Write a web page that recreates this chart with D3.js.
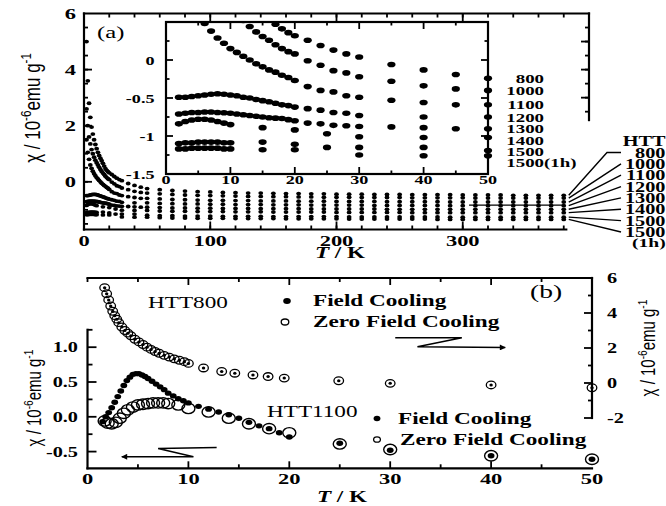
<!DOCTYPE html>
<html>
<head>
<meta charset="utf-8">
<script src="https://cdnjs.cloudflare.com/ajax/libs/d3/7.8.5/d3.min.js"></script>
<style>
  body { margin: 0; background: #fff; }
</style>
</head>
<body>
<svg id="fig" width="666" height="506"></svg>
<script>

// ---- panel (a) data : chi / 10^-6 emu g^-1 vs T / K ----

var tDense  = [2,3,4,5,6,7,8,9,10,11,12,13,14,15,16,17,18,19,20,22,24,26,28,30,35,40,45,50];
var t1200   = [2,3,4,5,6,7,8,9,10,11,12,13,14,15,16,17,18,19,20,22,24,26,28,30,40,50];
var tSparse = [2,3,4,5,6,7,8,9,10,15,20,25,30,40,50];
var t1500h  = [2,3,4,5,6,7,8,9,10,15,20,30,40,50];
var tHigh   = [60,70,80,90,100,110,120,130,140,150,160,170,180,190,200,210,220,230,240,250,260,270,280,290,300,310,320,330,340,350,360,370,380];

var chi800  = [5.0,3.6,2.8,2.3,1.95,1.7,1.5,1.33,1.18,1.05,0.94,0.84,0.75,0.66,0.56,0.47,0.41,0.36,0.32,0.26,0.19,0.13,0.08,0.04,-0.06,-0.13,-0.19,-0.24];
var chi1000 = [2.6,2.0,1.6,1.35,1.15,1.0,0.88,0.77,0.68,0.6,0.52,0.44,0.37,0.31,0.26,0.2,0.15,0.11,0.08,-0.01,-0.07,-0.14,-0.17,-0.22,-0.28,-0.34,-0.38,-0.40];
var chi1100 = [1.5,1.05,0.8,0.6,0.48,0.38,0.29,0.22,0.15,0.1,0.05,0.0,-0.05,-0.09,-0.13,-0.16,-0.2,-0.23,-0.27,-0.35,-0.4,-0.42,-0.47,-0.49,-0.53,-0.56,-0.59,-0.59];
var chi1200 = [-0.49,-0.49,-0.48,-0.47,-0.46,-0.45,-0.445,-0.45,-0.46,-0.47,-0.49,-0.5,-0.52,-0.535,-0.55,-0.57,-0.59,-0.6,-0.62,-0.64,-0.66,-0.69,-0.7,-0.73,-0.75,-0.75];
var chi1300 = [-0.71,-0.7,-0.69,-0.69,-0.685,-0.685,-0.69,-0.695,-0.7,-0.71,-0.72,-0.73,-0.74,-0.75,-0.76,-0.765,-0.77,-0.785,-0.8,-0.83,-0.84,-0.86,-0.865,-0.875,-0.88,-0.89,-0.905,-0.905];
var chi1400 = [-0.84,-0.81,-0.79,-0.78,-0.78,-0.79,-0.81,-0.83,-0.85,-0.89,-0.92,-0.97,-1.01,-1.02,-1.02];
var chi1500 = [-1.1,-1.09,-1.09,-1.08,-1.08,-1.08,-1.08,-1.09,-1.09,-1.08,-1.11,-1.15,-1.15,-1.15,-1.19];
var chi1500h = [-1.17,-1.17,-1.16,-1.16,-1.16,-1.16,-1.16,-1.17,-1.17,-1.18,-1.18,-1.25,-1.26,-1.26];

// high temperature part (main panel only)
var hi800  = [-0.28,-0.31,-0.33,-0.35,-0.36,-0.38,-0.39,-0.40,-0.40,-0.41,-0.42,-0.42,-0.43,-0.43,-0.44,-0.44,-0.44,-0.45,-0.45,-0.45,-0.46,-0.46,-0.46,-0.46,-0.47,-0.47,-0.47,-0.47,-0.48,-0.48,-0.48,-0.48,-0.48];
var hi1000 = [-0.43,-0.45,-0.47,-0.48,-0.49,-0.50,-0.51,-0.52,-0.52,-0.53,-0.53,-0.54,-0.54,-0.55,-0.55,-0.55,-0.56,-0.56,-0.56,-0.56,-0.57,-0.57,-0.57,-0.57,-0.57,-0.58,-0.58,-0.58,-0.58,-0.58,-0.58,-0.58,-0.58];
var hi1100 = [-0.61,-0.63,-0.64,-0.65,-0.66,-0.66,-0.67,-0.67,-0.68,-0.68,-0.68,-0.69,-0.69,-0.69,-0.70,-0.70,-0.70,-0.70,-0.71,-0.71,-0.71,-0.71,-0.71,-0.72,-0.72,-0.72,-0.72,-0.72,-0.72,-0.72,-0.72,-0.72,-0.72];
var hi1200 = [-0.77,-0.78,-0.79,-0.79,-0.80,-0.80,-0.81,-0.81,-0.81,-0.82,-0.82,-0.82,-0.83,-0.83,-0.83,-0.83,-0.83,-0.84,-0.84,-0.84,-0.84,-0.84,-0.84,-0.85,-0.85,-0.85,-0.85,-0.85,-0.85,-0.85,-0.85,-0.85,-0.85];
var hi1300 = [-0.92,-0.93,-0.93,-0.94,-0.94,-0.95,-0.95,-0.95,-0.96,-0.96,-0.96,-0.96,-0.97,-0.97,-0.97,-0.97,-0.97,-0.97,-0.98,-0.98,-0.98,-0.98,-0.98,-0.98,-0.98,-0.98,-0.98,-0.98,-0.98,-0.98,-0.98,-0.98,-0.98];
var hi1400 = [-1.04,-1.05,-1.05,-1.06,-1.06,-1.06,-1.07,-1.07,-1.07,-1.08,-1.08,-1.08,-1.08,-1.08,-1.09,-1.09,-1.09,-1.09,-1.09,-1.09,-1.10,-1.10,-1.10,-1.10,-1.10,-1.10,-1.10,-1.10,-1.10,-1.10,-1.10,-1.10,-1.10];
var hi1500 = [-1.21,-1.21,-1.22,-1.22,-1.22,-1.23,-1.23,-1.23,-1.23,-1.24,-1.24,-1.24,-1.24,-1.24,-1.24,-1.25,-1.25,-1.25,-1.25,-1.25,-1.25,-1.25,-1.25,-1.26,-1.26,-1.26,-1.26,-1.26,-1.26,-1.26,-1.26,-1.26,-1.26];
var hi1500h = [-1.28,-1.29,-1.29,-1.30,-1.30,-1.30,-1.31,-1.31,-1.31,-1.31,-1.32,-1.32,-1.32,-1.32,-1.32,-1.33,-1.33,-1.33,-1.33,-1.33,-1.33,-1.33,-1.34,-1.34,-1.34,-1.34,-1.34,-1.34,-1.34,-1.34,-1.34,-1.34,-1.34];

var htt = ['800','1000','1100','1200','1300','1400','1500','1500'];

// a stray horizontal rule in the main panel
var ruleT = [305, 380];
var ruleChi = [-0.83, -0.83];

// ---- panel (b) data ----

var t800b   = [1.7,1.9,2.1,2.3,2.5,2.7,2.9,3.1,3.4,3.7,4.0,4.3,4.7,5.1,5.5,5.9,6.3,6.7,7.1,7.6,8.1,8.6,9.1,9.6,10.0,11.5,13.3,14.6,16.4,17.9,19.5,24.9,30.0,40.0,50.0];
var chi800b = [5.45,5.1,4.75,4.4,4.1,3.85,3.65,3.45,3.2,3.0,2.85,2.7,2.5,2.35,2.2,2.05,1.92,1.8,1.7,1.58,1.48,1.38,1.3,1.22,1.12,0.86,0.66,0.56,0.46,0.37,0.28,0.13,-0.02,-0.11,-0.27];

var t1100fc   = [1.5,1.8,2.1,2.4,2.7,3.0,3.3,3.6,3.9,4.2,4.5,4.8,5.1,5.4,5.7,6.0,6.4,6.8,7.2,7.6,8.0,8.5,9.0,9.5,10.0,11.0,12.0,13.0,14.0,15.0,16.0,17.0,18.0,19.0,20.0,25.0,30.0,40.0,50.0];
var chi1100fc = [-0.07,0.0,0.06,0.13,0.21,0.29,0.37,0.45,0.52,0.57,0.61,0.62,0.62,0.6,0.58,0.55,0.51,0.47,0.43,0.39,0.34,0.3,0.26,0.23,0.2,0.15,0.11,0.07,0.03,-0.02,-0.08,-0.13,-0.17,-0.23,-0.29,-0.38,-0.48,-0.56,-0.61];

var t1100zfc   = [1.7,2.0,2.4,2.8,3.2,3.6,4.0,4.5,5.0,5.5,6.0,6.5,7.0,7.5,8.0,9.0,10.0,12.0,14.0,16.0,18.0,20.0,25.0,30.0,40.0,50.0];
var chi1100zfc = [-0.06,-0.09,-0.1,-0.08,-0.02,0.05,0.1,0.14,0.17,0.18,0.19,0.2,0.2,0.2,0.19,0.17,0.12,0.07,-0.02,-0.1,-0.17,-0.23,-0.39,-0.47,-0.56,-0.61];

// arrows (data units of the axis they point to)
var arrowRightT = [30.5, 37.1, 32.7, 41.4];
var arrowRightChi = [2.59, 2.59, 2.07, 2.03];
var arrowLeftT = [12.8, 7.0, 10.5, 3.4];
var arrowLeftChi = [-0.44, -0.455, -0.575, -0.575];

// ------------------------------------------------------------------

var SX = 1.45;   // the scan is stretched sideways
var LW = 2.2;    // frame line width
var serif = 'Liberation Serif, Times New Roman, serif';
var sans = 'Liberation Sans, Arial, sans-serif';

var svg = d3.select('#fig');

function txt ( g, x, y, s, size, anchor, opts ) {
    opts = opts || {};
    return g.append('text')
        .attr('transform', 'translate(' + x + ',' + y + ') scale(' + SX + ',1)')
        .attr('text-anchor', anchor || 'start')
        .style('font-family', opts.family || serif)
        .style('font-size', size + 'px')
        .style('font-weight', opts.weight || 'bold')
        .attr('fill', '#000')
        .text(s);
}

function seg ( g, x1, y1, x2, y2 ) {
    g.append('path')
        .attr('d', 'M' + x1 + ',' + y1 + 'L' + x2 + ',' + y2)
        .attr('fill', 'none')
        .attr('stroke', '#000')
        .attr('stroke-width', LW)
        .attr('stroke-linecap', 'square');
}

// tick marks along a horizontal edge at y, going dy
function xTicks ( g, xs, vals, y, dy ) {
    g.selectAll(null)
        .data(vals)
        .enter().append('path')
        .attr('d', function ( d ) { return 'M' + xs(d) + ',' + y + 'V' + (y + dy); })
        .attr('fill', 'none')
        .attr('stroke', '#000')
        .attr('stroke-width', 1.8);
}

// tick marks along a vertical edge at x, going dx
function yTicks ( g, ys, vals, x, dx ) {
    g.selectAll(null)
        .data(vals)
        .enter().append('path')
        .attr('d', function ( d ) { return 'M' + x + ',' + ys(d) + 'H' + (x + dx); })
        .attr('fill', 'none')
        .attr('stroke', '#000')
        .attr('stroke-width', 1.8);
}

function ytitle ( x, y, size ) {
    var t = svg.append('text')
        .attr('transform', 'translate(' + x + ',' + y + ') rotate(-90) scale(1,1.3)')
        .attr('text-anchor', 'middle')
        .style('font-family', sans)
        .style('font-size', size + 'px')
        .attr('fill', '#000');
    t.append('tspan').text('\u03C7 / 10');
    t.append('tspan').attr('dy', -0.42 * size).style('font-size', (0.68 * size) + 'px').text('-6');
    t.append('tspan').attr('dy', 0.42 * size).text('emu g');
    t.append('tspan').attr('dy', -0.42 * size).style('font-size', (0.68 * size) + 'px').text('-1');
}

function dots ( g, xs, ys, tArr, cArr, rx, ry, filled, sw ) {
    g.selectAll(null)
        .data(d3.zip(tArr, cArr))
        .enter().append('ellipse')
        .attr('cx', function ( d ) { return xs(d[0]); })
        .attr('cy', function ( d ) { return ys(d[1]); })
        .attr('rx', rx)
        .attr('ry', ry)
        .attr('fill', filled ? '#000' : 'none')
        .attr('stroke', filled ? 'none' : '#000')
        .attr('stroke-width', sw || 1.3);
}

svg.append('defs').append('marker')
    .attr('id', 'head')
    .attr('viewBox', '0 0 10 10')
    .attr('refX', 9).attr('refY', 5)
    .attr('markerWidth', 9).attr('markerHeight', 6)
    .attr('markerUnits', 'userSpaceOnUse')
    .attr('orient', 'auto')
    .append('path')
    .attr('d', 'M0,0 L10,5 L0,10 z')
    .attr('fill', '#000');

// ================= panel (a) =================

var xMain = d3.scaleLinear().domain([0, 400]).range([84, 589]);
var yMain = d3.scaleLinear().domain([-1.7, 6]).range([229.5, 13.5]);

var ga = svg.append('g');

// frame: full left and top, short right edge, bottom axis stops where data stop
seg(ga, xMain(0), yMain(-1.7), xMain(0), yMain(6));
seg(ga, xMain(0), yMain(6), xMain(400), yMain(6));
seg(ga, xMain(400), yMain(6), xMain(400), yMain(2.2));
seg(ga, xMain(0), yMain(-1.7), xMain(382), yMain(-1.7));

xTicks(ga, xMain, d3.range(20, 381, 20), yMain(-1.7), -4);
xTicks(ga, xMain, [100, 200, 300], yMain(-1.7), -8);
xTicks(ga, xMain, d3.range(20, 400, 20), yMain(6), 4);
xTicks(ga, xMain, [100, 200, 300], yMain(6), 8);
yTicks(ga, yMain, d3.range(-1.5, 6, 0.5), xMain(0), 4);
yTicks(ga, yMain, [0, 2, 4], xMain(0), 8);
yTicks(ga, yMain, d3.range(2.5, 6, 0.5), xMain(400), -4);
yTicks(ga, yMain, [3, 4, 5], xMain(400), -8);

[0, 2, 4, 6].forEach(function ( v ) {
    txt(ga, 76, yMain(v) + 5.5, String(v), 15.5, 'end');
});
[0, 100, 200, 300].forEach(function ( v ) {
    txt(ga, xMain(v), 246, String(v), 15.5, 'middle');
});

var tk = txt(ga, 340, 258, '', 16, 'middle');
tk.append('tspan').style('font-style', 'italic').text('T');
tk.append('tspan').text(' / K');

ytitle(40, 108, 17);
txt(ga, 97, 38, '(a)', 17, 'start', { weight: 'normal' });

var seriesA = [
    { t: tDense,  c: chi800,   hi: hi800 },
    { t: tDense,  c: chi1000,  hi: hi1000 },
    { t: tDense,  c: chi1100,  hi: hi1100 },
    { t: t1200,   c: chi1200,  hi: hi1200 },
    { t: tDense,  c: chi1300,  hi: hi1300 },
    { t: tSparse, c: chi1400,  hi: hi1400 },
    { t: tSparse, c: chi1500,  hi: hi1500 },
    { t: t1500h,  c: chi1500h, hi: hi1500h }
];

seriesA.forEach(function ( s ) {
    dots(ga, xMain, yMain, s.t, s.c, 2.4, 1.9, true);
    dots(ga, xMain, yMain, tHigh, s.hi, 2.4, 1.9, true);
});

ga.append('path')
    .attr('d', d3.line()(d3.zip(ruleT, ruleChi).map(function ( d ) { return [ xMain(d[0]), yMain(d[1]) ]; })))
    .attr('stroke', '#000').attr('stroke-width', 1.4).attr('fill', 'none');

// label fan on the right
txt(ga, 665.5, 146, 'HTT', 14, 'end');
seriesA.forEach(function ( s, i ) {
    var ly = 152.5 + i * 11.35;
    var y0 = yMain(s.hi[s.hi.length - 1]);
    var x0 = xMain(tHigh[tHigh.length - 1]) + 5;
    var pts = i === 0 ? [[x0, y0], [607, ly], [621, ly]] : [[x0, y0], [621, ly]];
    ga.append('path')
        .attr('d', d3.line()(pts))
        .attr('stroke', '#000').attr('stroke-width', 1.4).attr('fill', 'none');
    txt(ga, 665.5, ly + 5, htt[i], 14, 'end');
});
txt(ga, 632, 152.5 + 8 * 11.35 + 4, '(1h)', 13.5, 'start');

// ---------------- inset ----------------

var xIn = d3.scaleLinear().domain([0, 50]).range([166, 488]);
var yIn = d3.scaleLinear().domain([-1.5, 0.5]).range([174, 22]);

var gi = svg.append('g');

gi.append('rect')
    .attr('x', xIn(0)).attr('y', yIn(0.5))
    .attr('width', xIn(50) - xIn(0)).attr('height', yIn(-1.5) - yIn(0.5))
    .attr('fill', '#fff')
    .attr('stroke', '#000')
    .attr('stroke-width', LW);

gi.append('clipPath').attr('id', 'inclip').append('rect')
    .attr('x', xIn(0)).attr('y', yIn(0.5))
    .attr('width', xIn(50) - xIn(0) + 5).attr('height', yIn(-1.5) - yIn(0.5));

xTicks(gi, xIn, [5, 15, 25, 35, 45], yIn(-1.5), -3.5);
xTicks(gi, xIn, [10, 20, 30, 40], yIn(-1.5), -7);
xTicks(gi, xIn, [5, 15, 25, 35, 45], yIn(0.5), 3.5);
xTicks(gi, xIn, [10, 20, 30, 40], yIn(0.5), 7);
yTicks(gi, yIn, [-1.25, -0.75, -0.25, 0.25], xIn(0), 3.5);
yTicks(gi, yIn, [-1, -0.5, 0], xIn(0), 7);
yTicks(gi, yIn, [-1.25, -0.75, -0.25, 0.25], xIn(50), -3.5);
yTicks(gi, yIn, [-1, -0.5, 0], xIn(50), -7);

[0, -0.5, -1, -1.5].forEach(function ( v ) {
    txt(gi, 154.5, yIn(v) + 4.5, String(v), 12.5, 'end');
});
[0, 10, 20, 30, 40, 50].forEach(function ( v ) {
    txt(gi, xIn(v), 184, String(v), 12.5, 'middle');
});

var gid = gi.append('g').attr('clip-path', 'url(#inclip)');
seriesA.forEach(function ( s ) {
    dots(gid, xIn, yIn, s.t, s.c, 4.1, 2.8, true);
});

var prevY = -100;
seriesA.forEach(function ( s, i ) {
    var ly = Math.max(yIn(s.c[s.c.length - 1]), prevY + 11.3);
    prevY = ly;
    txt(gi, 544, ly + 4.5, htt[i], 13, 'end');
    if ( i === 7 ) {
        txt(gi, 544, ly + 4.5, '(1h)', 13, 'start');
    }
});

// ================= panel (b) =================

var xB = d3.scaleLinear().domain([0, 50]).range([87.5, 592]);
var yL = d3.scaleLinear().domain([-0.74, 1.25]).range([468.3, 329.8]);
var yR = d3.scaleLinear().domain([-2, 6]).range([418, 278]);

var gb = svg.append('g');

seg(gb, xB(0), yL(-0.74), xB(50), yL(-0.74));
seg(gb, xB(0), yR(6), xB(50), yR(6));
seg(gb, xB(0), yL(-0.74), xB(0), yL(1.25));
seg(gb, xB(50), yR(6), xB(50), yR(-2));

xTicks(gb, xB, [5, 15, 25, 35, 45], yL(-0.74), -4);
xTicks(gb, xB, [10, 20, 30, 40], yL(-0.74), -7);
xTicks(gb, xB, [0, 5, 15, 25, 35, 45], yR(6), 4);
xTicks(gb, xB, [10, 20, 30, 40], yR(6), 7);
yTicks(gb, yL, [-0.25, 0.25, 0.75, 1.25], xB(0), 5);
yTicks(gb, yL, [-0.5, 0, 0.5, 1], xB(0), 9);
yTicks(gb, yR, [-1, 1, 3, 5], xB(50), -4);
yTicks(gb, yR, [-2, 0, 2, 4], xB(50), -8);

[1.0, 0.5, 0.0, -0.5].forEach(function ( v ) {
    txt(gb, 78, yL(v) + 5, v.toFixed(1), 14, 'end');
});
[6, 4, 2, 0, -2].forEach(function ( v ) {
    txt(gb, 607, yR(v) + 5, String(v), 14, 'start');
});
[0, 10, 20, 30, 40, 50].forEach(function ( v ) {
    txt(gb, xB(v), 483.5, String(v), 15.5, 'middle');
});

var tk2 = txt(gb, 342, 502, '', 16, 'middle');
tk2.append('tspan').style('font-style', 'italic').text('T');
tk2.append('tspan').text(' / K');

ytitle(41, 398, 15);
ytitle(655, 348, 15);

// HTT800 : ZFC and FC coincide
dots(gb, xB, yR, t800b, chi800b, 4.8, 3.8, false, 1.3);
dots(gb, xB, yR, t800b, chi800b, 1.7, 1.5, true);

// HTT1100
dots(gb, xB, yL, t1100zfc, chi1100zfc, 6.5, 5.2, false, 1.4);
dots(gb, xB, yL, t1100fc, chi1100fc, 3.4, 2.7, true);

// legends
txt(gb, 148, 307.5, 'HTT800', 16, 'start', { weight: 'normal' });
gb.append('ellipse').attr('cx', 287).attr('cy', 301).attr('rx', 3.8).attr('ry', 3).attr('fill', '#000');
txt(gb, 313, 305.5, 'Field Cooling', 16, 'start');
gb.append('ellipse').attr('cx', 285).attr('cy', 322).attr('rx', 3.8).attr('ry', 3)
    .attr('fill', 'none').attr('stroke', '#000').attr('stroke-width', 1.3);
txt(gb, 313, 326.5, 'Zero Field Cooling', 16, 'start');

txt(gb, 530, 298, '(b)', 19, 'start', { weight: 'normal' });

txt(gb, 267, 417, 'HTT1100', 16, 'start', { weight: 'normal' });
gb.append('ellipse').attr('cx', 377).attr('cy', 418.5).attr('rx', 3.4).attr('ry', 2.7).attr('fill', '#000');
txt(gb, 398, 423.5, 'Field Cooling', 16, 'start');
gb.append('ellipse').attr('cx', 377).attr('cy', 439.5).attr('rx', 3.4).attr('ry', 2.7)
    .attr('fill', 'none').attr('stroke', '#000').attr('stroke-width', 1.3);
txt(gb, 400, 445, 'Zero Field Cooling', 16, 'start');

// arrows telling which axis each data set uses
gb.append('path')
    .attr('d', d3.line()(d3.zip(arrowRightT, arrowRightChi).map(function ( d ) { return [ xB(d[0]), yR(d[1]) ]; })))
    .attr('stroke', '#000').attr('stroke-width', 1.5).attr('fill', 'none')
    .attr('marker-end', 'url(#head)');
gb.append('path')
    .attr('d', d3.line()(d3.zip(arrowLeftT, arrowLeftChi).map(function ( d ) { return [ xB(d[0]), yL(d[1]) ]; })))
    .attr('stroke', '#000').attr('stroke-width', 1.5).attr('fill', 'none')
    .attr('marker-end', 'url(#head)');

</script>
</body>
</html>
